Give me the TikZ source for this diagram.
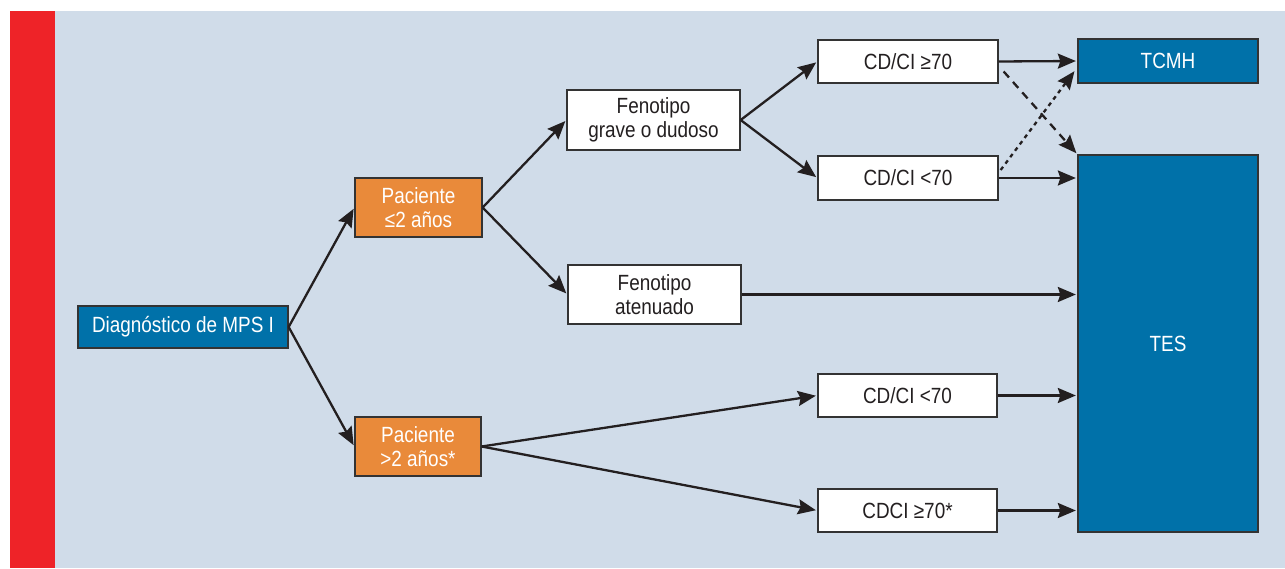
\documentclass[tikz,border=0pt]{standalone}
\usepackage{fontspec}
\setmainfont{Liberation Sans}[FakeStretch=0.86]
\usetikzlibrary{arrows.meta,calc}
\definecolor{bgc}{HTML}{D0DCE9}
\definecolor{redc}{HTML}{EE2328}
\definecolor{bluec}{HTML}{0071A9}
\definecolor{orangec}{HTML}{E98A3A}
\definecolor{linec}{HTML}{231F20}
\definecolor{borderc}{HTML}{333333}
\begin{document}
\begin{tikzpicture}[x=1pt,y=-1pt,
  box/.style={draw=borderc,line width=1.3pt,inner sep=0pt,align=center,
    font=\fontsize{22}{23.5}\selectfont,text=linec},
  whitebox/.style={box,fill=white},
  bluebox/.style={box,fill=bluec,text=white},
  orangebox/.style={box,fill=orangec,text=white},
  arr/.style={draw=linec,line width=2.3pt,-{Stealth[length=18pt,width=15pt,inset=2.5pt]},shorten >=1.5pt},
]
\useasboundingbox (0,0) rectangle (1285,569);
\fill[bgc] (55,11) rectangle (1285,568);
\fill[redc] (10,11) rectangle (55,568);

\node[bluebox,minimum width=210pt,minimum height=42pt] (diag) at (183,327) {Diagnóstico de MPS I};
\node[orangebox,minimum width=127pt,minimum height=59pt] (p1) at (418.5,207.5) {Paciente\\≤2 años};
\node[orangebox,minimum width=126pt,minimum height=59pt] (p2) at (418,446.5) {Paciente\\>2 años*};
\node[whitebox,minimum width=173pt,minimum height=60pt] (fg) at (653.5,120) {Fenotipo\\grave o dudoso};
\node[whitebox,minimum width=173pt,minimum height=59pt] (fa) at (654.5,294.5) {Fenotipo\\atenuado};
\node[whitebox,minimum width=180pt,minimum height=43pt] (c1) at (908,61.5) {CD/CI ≥70};
\node[whitebox,minimum width=180pt,minimum height=44pt] (c2) at (908,178) {CD/CI <70};
\node[whitebox,minimum width=179pt,minimum height=43pt] (c3) at (907.5,395.5) {CD/CI <70};
\node[whitebox,minimum width=179pt,minimum height=43pt] (c4) at (907.5,510.5) {CDCI ≥70*};
\node[bluebox,minimum width=180pt,minimum height=44pt] (tcmh) at (1168,61) {TCMH};
\node[bluebox,minimum width=180pt,minimum height=377pt] (tes) at (1168,343.5) {TES};

\draw[arr] (diag.east) -- (p1.west);
\draw[arr] (diag.east) -- (p2.west);
\draw[arr] (p1.east) -- (fg.west);
\draw[arr] (p1.east) -- (fa.west);
\draw[arr] (fg.east) -- (c1.west);
\draw[arr] (fg.east) -- (c2.west);
\draw[arr] (p2.east) -- (c3.west);
\draw[arr] (p2.east) -- (c4.west);
\draw[arr] (c1.east) -- (tcmh.west);
\draw[arr] (c2.east) -- (c2.east -| tes.west);
\draw[arr] (fa.east) -- (fa.east -| tes.west);
\draw[arr] (c3.east) -- (c3.east -| tes.west);
\draw[arr] (c4.east) -- (c4.east -| tes.west);
\draw[arr,dash pattern=on 8pt off 6pt] ($(c1.east)+(5,10)$) -- (tes.north west);
\draw[arr,dash pattern=on 4pt off 4pt] ($(c2.east)+(2,-8)$) -- ($(tcmh.west)+(-2,9)$);
\end{tikzpicture}
\end{document}
